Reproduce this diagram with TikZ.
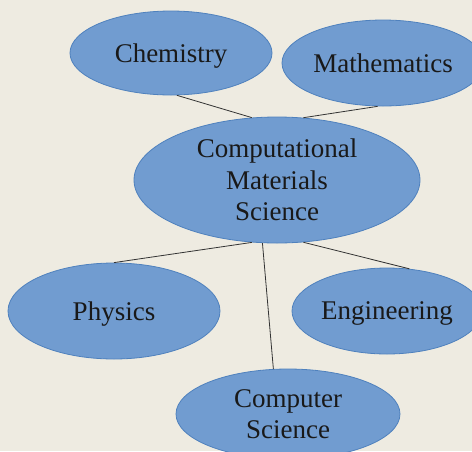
\documentclass[tikz,border=0pt]{standalone}
\usepackage{fontspec}
\setmainfont{Liberation Serif}
\usetikzlibrary{shapes.geometric}
\definecolor{bgbeige}{HTML}{EEEBE1}
\definecolor{bubblefill}{HTML}{719CD0}
\definecolor{bubbleline}{HTML}{4F81BD}

\begin{document}
\begin{tikzpicture}[x=1pt, y=-1pt,
  field/.style={ellipse, draw=bubbleline, fill=bubblefill, line width=0.8pt, inner sep=0pt, align=center, text depth=0pt, text=black!90, font=\fontsize{27}{31.5}\selectfont},
  link/.style={line width=0.8pt, black!80},
]
  \useasboundingbox (0,0) rectangle (472,451);
  \fill[bgbeige] (0,0) rectangle (472,451);
  \clip (0,0) rectangle (472,451);

  \node[field, minimum width=286pt, minimum height=126pt] (cms) at (277,180) {Computational\\Materials\\Science};
  \node[field, minimum width=202pt, minimum height=84pt] (chem) at (171,53) {Chemistry};
  \node[field, minimum width=202pt, minimum height=86pt] (math) at (383,63) {Mathematics};
  \node[field, minimum width=212pt, minimum height=96pt] (phys) at (114,311) {Physics};
  \node[field, minimum width=190pt, minimum height=86pt] (eng) at (387,311) {Engineering};
  \node[field, minimum width=224pt, minimum height=90pt] (cs) at (288,414) {Computer\\Science};

  % spokes from the centre
  \draw[link] (chem.278) -- (cms.112);
  \draw[link] (math.263) -- (cms.67);
  \draw[link] (cms.248) -- (phys.90);
  \draw[link] (cms.257) -- (cs.108);
  \draw[link] (cms.293) -- (eng.62);
\end{tikzpicture}
\end{document}
